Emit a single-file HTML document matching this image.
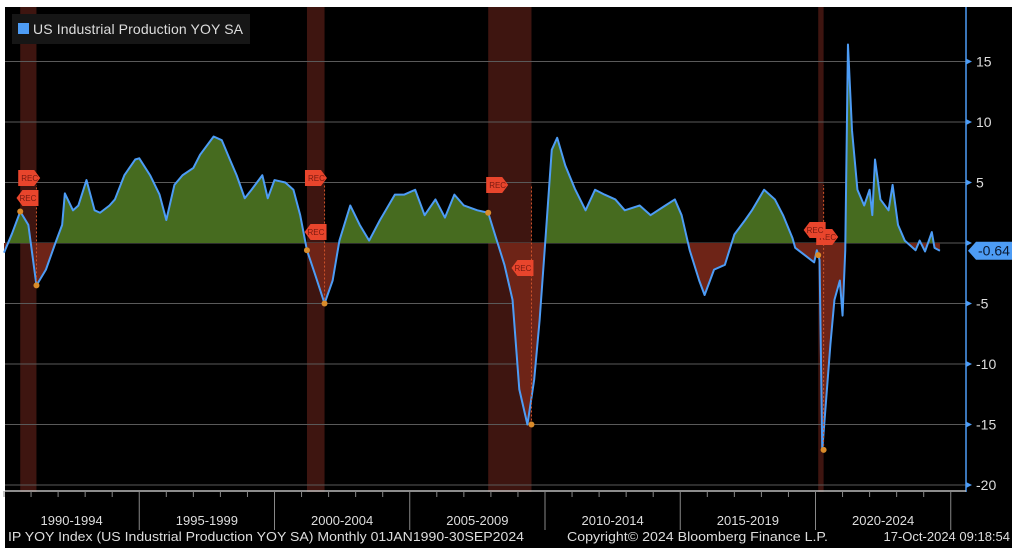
<!DOCTYPE html>
<html><head><meta charset="utf-8"><style>
body{margin:0;background:#fff;width:1024px;height:556px;overflow:hidden}
svg{display:block;font-family:"Liberation Sans",sans-serif}
</style></head><body>
<svg id="chart" width="1024" height="556">
<rect x="5" y="7" width="1007" height="541" fill="#000"/>
<g id="rec"></g><g id="grid"></g><g id="areas"></g><g id="line"></g><g id="marks"></g><g id="axis"></g>
<g>
<rect x="12" y="14" width="238" height="30" fill="#161616"/>
<rect x="18" y="23" width="11" height="11" fill="#4d9cf5"/>
<text x="33" y="34" fill="#ddd" font-size="14" textLength="210">US Industrial Production YOY SA</text>
</g>
<text x="8" y="541" fill="#ddd" font-size="13" textLength="516" lengthAdjust="spacingAndGlyphs">IP YOY Index (US Industrial Production YOY SA)  Monthly 01JAN1990-30SEP2024</text>
<text x="567" y="541" fill="#ddd" font-size="13" textLength="261" lengthAdjust="spacingAndGlyphs">Copyright© 2024 Bloomberg Finance L.P.</text>
<text x="1010" y="541" fill="#ddd" font-size="13" text-anchor="end">17-Oct-2024 09:18:54</text>
</svg>
<script>
const years=[1990.0,1990.3,1990.6,1990.9,1991.2,1991.55,1991.9,1992.15,1992.25,1992.55,1992.75,1993.05,1993.35,1993.55,1993.9,1994.1,1994.45,1994.85,1995.0,1995.4,1995.75,1996.0,1996.3,1996.6,1997.0,1997.25,1997.75,1998.05,1998.35,1998.6,1998.9,1999.15,1999.55,1999.75,2000.0,2000.4,2000.7,2000.95,2001.2,2001.5,2001.85,2002.15,2002.4,2002.8,2003.15,2003.5,2003.9,2004.45,2004.8,2005.2,2005.55,2005.95,2006.3,2006.65,2007.0,2007.5,2007.9,2008.15,2008.5,2008.8,2009.05,2009.35,2009.6,2009.8,2010.0,2010.25,2010.45,2010.75,2011.1,2011.5,2011.85,2012.2,2012.6,2012.95,2013.5,2013.9,2014.45,2014.8,2015.05,2015.35,2015.7,2015.9,2016.25,2016.65,2017.0,2017.4,2017.65,2018.1,2018.5,2018.8,2019.15,2019.25,2019.6,2019.95,2020.05,2020.15,2020.25,2020.55,2020.7,2020.9,2021.0,2021.1,2021.2,2021.35,2021.55,2021.8,2022.0,2022.1,2022.2,2022.4,2022.7,2022.85,2023.05,2023.3,2023.7,2023.85,2024.05,2024.3,2024.4,2024.6];
const values=[-0.8,0.8,2.6,1.5,-3.5,-2.2,0,1.5,4.1,2.7,3.1,5.2,2.7,2.5,3.1,3.6,5.6,6.9,7.0,5.6,4.0,1.9,4.8,5.6,6.2,7.3,8.8,8.5,6.9,5.6,3.7,4.4,5.6,3.7,5.2,5.0,4.4,2.3,-0.6,-2.6,-5.0,-3.1,0.2,3.1,1.5,0.2,1.9,4.0,4.0,4.4,2.3,3.6,2.1,4.0,3.1,2.7,2.5,0.7,-1.8,-4.7,-12.1,-15.0,-11.3,-6.4,-0.2,7.7,8.7,6.4,4.5,2.7,4.4,4.0,3.6,2.7,3.1,2.3,3.1,3.6,2.3,-0.6,-3.1,-4.3,-2.2,-1.8,0.7,1.9,2.7,4.4,3.6,2.3,0.4,-0.4,-1.0,-1.6,-0.6,-1.4,-17.1,-8.4,-4.7,-3.1,-6.0,-0.6,16.4,9.3,4.4,3.1,4.4,2.3,6.9,3.6,2.7,4.8,1.5,0.2,-0.6,0.2,-0.7,0.9,-0.4,-0.64];
const recStart=[1990.6,2001.2,2007.9,2020.1];
const recEnd=[1991.2,2001.85,2009.5,2020.3];
const yTicks=[15,10,5,0,-5,-10,-15,-20];
const periodLabels=["1990-1994","1995-1999","2000-2004","2005-2009","2010-2014","2015-2019","2020-2024"];
const lastValue=-0.64;
const NS="http://www.w3.org/2000/svg";
const X=y=>4+(y-1990)*27.05, Y=v=>243-v*12.1;
function mk(tag,attrs,parent,txt){const e=document.createElementNS(NS,tag);for(const k in attrs)e.setAttribute(k,attrs[k]);if(txt!==undefined)e.textContent=txt;document.getElementById(parent).appendChild(e);return e;}
recStart.forEach((s,i)=>{
 const r=mk('rect',{x:X(s),y:7,width:X(recEnd[i])-X(s),height:485,fill:'#3e1510'},'rec');
 
 
});
yTicks.forEach(t=>{
 const l=mk('line',{x1:5,x2:966,y1:Y(t),y2:Y(t),stroke:'#5a5a5a','stroke-width':1},'grid');
 
 
});
const pts=years.map((y,i)=>X(y)+','+Y(values[i])).join(' ');
const poly=`${X(years[0])},${Y(0)} ${pts} ${X(years[years.length-1])},${Y(0)}`;
const defs=mk('defs',{},'areas');
const c1=document.createElementNS(NS,'clipPath');c1.id='up';defs.appendChild(c1);
const r1=document.createElementNS(NS,'rect');r1.setAttribute('x',0);r1.setAttribute('y',0);r1.setAttribute('width',1024);r1.setAttribute('height',Y(0));c1.appendChild(r1);
const c2=document.createElementNS(NS,'clipPath');c2.id='dn';defs.appendChild(c2);
const r2=document.createElementNS(NS,'rect');r2.setAttribute('x',0);r2.setAttribute('y',Y(0));r2.setAttribute('width',1024);r2.setAttribute('height',400);c2.appendChild(r2);
const ag=mk('polygon',{points:poly,fill:'#466b1f','clip-path':'url(#up)'},'areas');


const ar=mk('polygon',{points:poly,fill:'#6e2417','clip-path':'url(#dn)'},'areas');


const ln=mk('polyline',{points:pts,fill:'none',stroke:'#4d9cf5','stroke-width':2,'stroke-linejoin':'round'},'line');


function interp(t){for(let i=1;i<years.length;i++){if(years[i]>=t){const f=(t-years[i-1])/(years[i]-years[i-1]);return values[i-1]+f*(values[i]-values[i-1]);}}return values[values.length-1];}
function mins(s,e){let m=1e9;years.forEach((y,i)=>{if(y>=s-0.05&&y<=e+0.3&&values[i]<m)m=values[i];});return m;}
recStart.forEach((s,i)=>{
 const x1=X(s),x2=X(recEnd[i]);
 const v1=interp(s),v2=mins(s,recEnd[i]);
 const d=mk('line',{x1:x2,x2:x2,y1:Y(v2),y2:185,stroke:'#d0532a','stroke-dasharray':'2,2'},'marks');
 
 
 [[x1,v1],[x2,v2]].forEach(p=>{
  const c=mk('circle',{cx:p[0],cy:Y(p[1]),r:3,fill:'#d98b2a'},'marks');
  
  
 });
 const fy=[[178,198],[178,232],[185,268],[237,230]][i];
 const f1=mk('polygon',{points:`${x1-2},${fy[0]-8} ${x1+14},${fy[0]-8} ${x1+20},${fy[0]} ${x1+14},${fy[0]+8} ${x1-2},${fy[0]+8}`,fill:'#e8452c'},'marks');
 
 
 const t1=mk('text',{x:x1+1,y:fy[0]+3,fill:'#7a1a10','font-size':8},'marks','REC');
 
 
 const f2=mk('polygon',{points:`${x2+2},${fy[1]-8} ${x2-14},${fy[1]-8} ${x2-20},${fy[1]} ${x2-14},${fy[1]+8} ${x2+2},${fy[1]+8}`,fill:'#e8452c'},'marks');
 
 
 const t2=mk('text',{x:x2-17,y:fy[1]+3,fill:'#7a1a10','font-size':8},'marks','REC');
 
 
});
const ya=mk('line',{x1:966,x2:966,y1:7,y2:492,stroke:'#4d9cf5','stroke-width':1.5},'axis');


yTicks.forEach(t=>{
 const tk=mk('polygon',{points:`966,${Y(t)-3} 972,${Y(t)} 966,${Y(t)+3}`,fill:'#4d9cf5'},'axis');
 
 
 if(t!==0){const tx=mk('text',{x:976,y:Y(t)+5,fill:'#ddd','font-size':14},'axis',String(t));
 
 }
});
const vb=mk('polygon',{points:`968,${Y(lastValue)} 976,${Y(lastValue)-9} 1012,${Y(lastValue)-9} 1012,${Y(lastValue)+9} 976,${Y(lastValue)+9}`,fill:'#4d9cf5'},'axis');


const vt=mk('text',{x:978,y:Y(lastValue)+5,fill:'#0a1a33','font-size':14},'axis',String(lastValue));


const xa=mk('line',{x1:5,x2:966,y1:491,y2:491,stroke:'#bbb','stroke-width':1.5},'axis');


for(let y=1990;y<=2025;y++){
 const big=(y%5===0)&&y>1990;
 const tk=mk('line',{x1:X(y),x2:X(y),y1:491,y2:big?530:497,stroke:'#888'},'axis');
 
 
}
periodLabels.forEach((p,i)=>{
 const tx=mk('text',{x:X(1990+i*5+2.5),y:525,fill:'#ddd','font-size':13,'text-anchor':'middle'},'axis',p);
 
 
});
</script>
</body></html>
